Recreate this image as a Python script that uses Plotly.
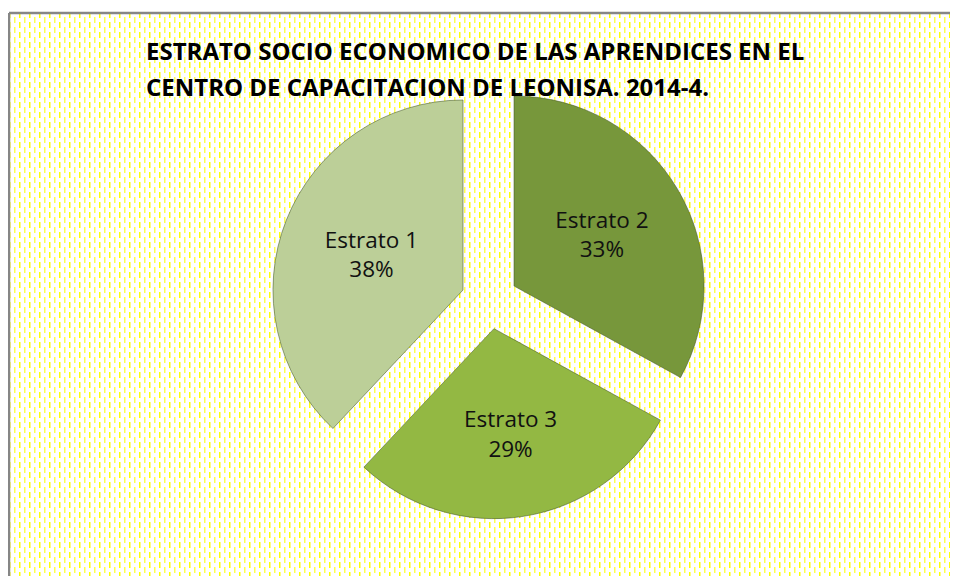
import base64
import plotly.graph_objects as go

# Data
categories = ["Estrato 1", "Estrato 2", "Estrato 3"]
values = [38, 33, 29]
slice_colors = ["#bccf98", "#77973b", "#93b843"]
title_lines = ["ESTRATO SOCIO ECONOMICO DE LAS APRENDICES EN EL",
               "CENTRO DE CAPACITACION DE LEONISA. 2014-4."]

# page body has an 8px margin, so the figure origin sits at screen (8, 8)
OFF = 8
W, H = 958 - OFF, 584 - 2 * OFF


def px(x):
    return (x - OFF) / W


def py(y):
    return 1 - (y - OFF) / H


# Yellow dashed background pattern (decorative) as an inline SVG image
bg_w, bg_h = W, H - 4
svg = (
    f'<svg xmlns="http://www.w3.org/2000/svg" width="{bg_w}" height="{bg_h}">'
    '<defs><pattern id="p" width="10" height="10" patternUnits="userSpaceOnUse">'
    '<rect x="1" y="0" width="1.5" height="6" fill="#ffff00"/>'
    '<rect x="6" y="5" width="1.5" height="6" fill="#ffff50"/>'
    '<rect x="6" y="-5" width="1.5" height="6" fill="#ffff50"/>'
    '</pattern></defs>'
    f'<rect width="{bg_w}" height="{bg_h}" fill="white"/>'
    f'<rect width="{bg_w}" height="{bg_h}" fill="url(#p)"/>'
    '</svg>'
)
svg_uri = "data:image/svg+xml;base64," + base64.b64encode(svg.encode()).decode()

fig = go.Figure()
fig.add_trace(go.Pie(
    labels=categories,
    values=values,
    sort=False,
    direction="clockwise",
    rotation=223.2,
    pull=[0.15, 0.15, 0.15],
    marker=dict(colors=slice_colors, line=dict(color="rgba(70,90,35,0.55)", width=1)),
    texttemplate="%{label}<br>%{percent:.0%}",
    textposition="inside",
    insidetextorientation="horizontal",
    textfont=dict(family="Open Sans", size=22.5, color="#111111"),
    hoverinfo="label+percent",
    showlegend=False,
    domain=dict(x=[px(271), px(708)], y=[py(519), py(82)]),
))

annotations = []
for i, line in enumerate(title_lines):
    annotations.append(dict(
        text=line, xref="paper", yref="paper",
        x=px(144), y=py(50 + 37 * i), xanchor="left", yanchor="middle",
        align="left", showarrow=False,
        font=dict(family="Open Sans", size=24, color="#000000", weight="bold"),
    ))

border = dict(color="#868686", width=2.5)
fig.update_layout(
    width=W, height=H,
    margin=dict(l=0, r=0, t=0, b=0),
    paper_bgcolor="white",
    plot_bgcolor="white",
    images=[dict(
        source=svg_uri, xref="paper", yref="paper",
        x=px(8), y=py(12), sizex=bg_w / W, sizey=bg_h / H,
        xanchor="left", yanchor="top", sizing="stretch", layer="below",
    )],
    shapes=[
        dict(type="line", xref="paper", yref="paper",
             x0=px(9), x1=1.0, y0=py(13), y1=py(13), line=border),
        dict(type="line", xref="paper", yref="paper",
             x0=px(9), x1=px(9), y0=0.0, y1=py(13), line=border),
    ],
    annotations=annotations,
)

fig.write_html("out.html")
